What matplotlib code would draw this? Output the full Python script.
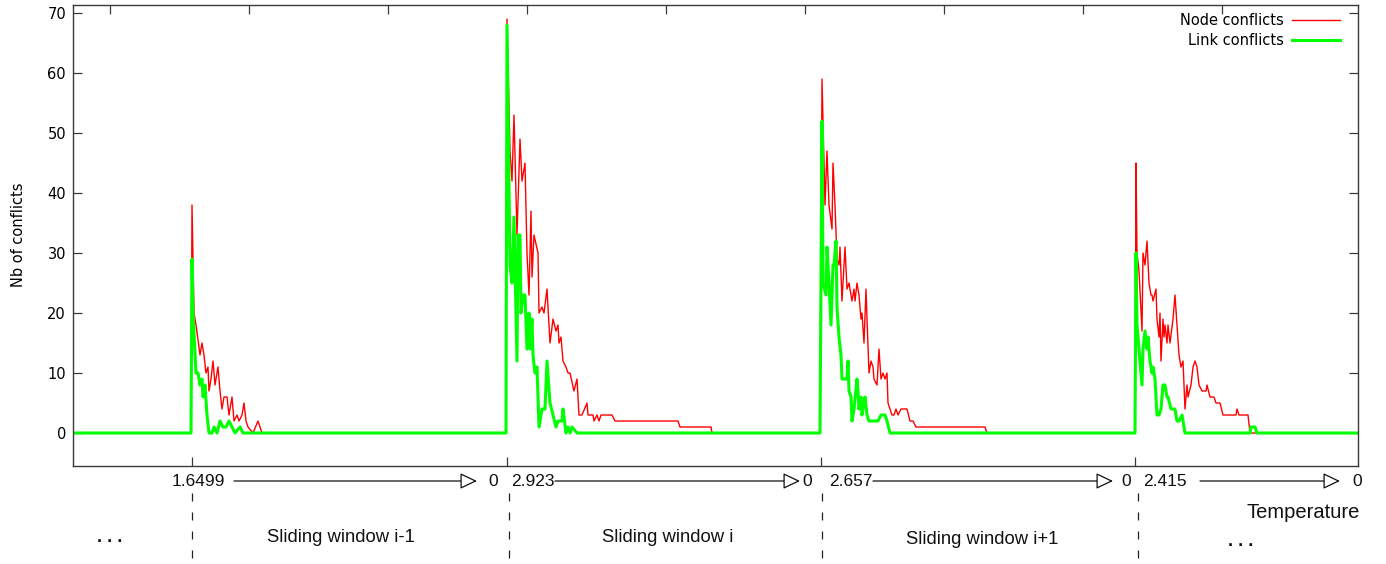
import matplotlib
matplotlib.use("Agg")
import matplotlib.pyplot as plt
import matplotlib.transforms as mtransforms
from matplotlib.lines import Line2D

# ---------------- data ----------------
# x = iteration index, y = number of conflicts
node_x = [0, 118,
          119, 121, 123, 127, 129, 131, 133, 135, 136, 138, 140, 142, 145, 147, 149, 151, 154, 156,
          159, 161, 164, 166, 169, 171, 173, 175, 180, 185, 189,
          433,
          434, 437, 439, 441, 444, 447, 449, 452, 454, 456, 458, 459, 461, 465, 466, 469, 471, 474,
          477, 480, 483, 485, 486, 488, 490, 493, 495, 497, 501, 504, 506, 509, 514, 515, 520, 521,
          524, 526, 528, 539, 542, 605, 607, 638, 639,
          747,
          749, 752, 754, 756, 759, 760, 762, 764, 766, 767, 769, 772, 774, 776, 779, 781, 782, 784,
          786, 788, 789, 791, 793, 794, 796, 798, 800, 801, 804, 806, 808, 810, 812, 814, 815, 819,
          821, 823, 825, 828, 834, 837, 840, 843, 912, 914,
          1062,
          1063, 1064, 1066, 1069, 1070, 1072, 1074, 1076, 1078, 1079, 1080, 1083, 1084, 1086, 1087,
          1088, 1090, 1091, 1092, 1094, 1095, 1097, 1100, 1102, 1104, 1106, 1108, 1110, 1112, 1114,
          1115, 1118, 1120, 1122, 1124, 1126, 1129, 1133, 1134, 1137, 1141, 1143, 1147, 1150, 1163,
          1164, 1166, 1175, 1177,
          1285]
node_y = [0, 0,
          38, 20, 18, 13, 15, 13, 10, 11, 7, 9, 12, 8, 11, 7, 4, 6, 6, 3,
          6, 2, 3, 2, 3, 5, 2, 1, 0, 2, 0,
          0,
          69, 47, 42, 53, 33, 49, 42, 45, 30, 23, 37, 26, 33, 30, 20, 21, 20, 24,
          15, 19, 17, 18, 15, 16, 12, 11, 10, 10, 7, 9, 3, 3, 5, 3, 3, 2,
          3, 2, 3, 3, 2, 2, 1, 1, 0,
          0,
          59, 38, 47, 38, 34, 45, 38, 29, 28, 31, 22, 31, 24, 25, 22, 24, 22, 25,
          23, 19, 20, 15, 24, 19, 10, 12, 11, 9, 8, 14, 9, 10, 9, 10, 5, 3,
          3, 4, 3, 4, 4, 2, 2, 1, 1, 0,
          0,
          45, 30, 27, 17, 30, 28, 32, 25, 23, 23, 22, 24, 19, 16, 20,
          12, 19, 16, 18, 15, 18, 15, 19, 23, 18, 13, 11, 12, 4, 8,
          6, 8, 11, 12, 11, 8, 7, 7, 8, 6, 6, 5, 5, 3, 3,
          4, 3, 3, 0,
          0]

link_x = [0, 118,
          119, 120, 123, 125, 127, 129, 130, 132, 134, 136, 139, 141, 144, 147, 150, 153, 156, 159,
          162, 167, 170,
          433,
          434, 437, 439, 441, 444, 445, 447, 448, 450, 452, 454, 456, 457, 459, 460, 462, 464, 466,
          469, 472, 474, 477, 480, 483, 485, 489, 490, 493, 495, 497, 499, 504,
          747,
          749, 750, 753, 754, 756, 758, 760, 761, 763, 764, 766, 768, 769, 772, 774, 775, 776, 778,
          779, 781, 784, 785, 786, 788, 789, 791, 792, 794, 796, 805, 808, 812, 814, 817,
          1062,
          1063, 1064, 1066, 1069, 1070, 1072, 1074, 1075, 1077, 1079, 1080, 1082, 1084, 1086, 1088,
          1090, 1092, 1094, 1095, 1098, 1100, 1102, 1104, 1106, 1109, 1110, 1112, 1177, 1178, 1182,
          1184,
          1285]
link_y = [0, 0,
          29, 20, 10, 10, 8, 9, 6, 8, 3, 0, 0, 1, 0, 2, 1, 1, 2, 1,
          0, 1, 0,
          0,
          68, 28, 25, 36, 12, 33, 33, 20, 23, 23, 14, 20, 14, 19, 13, 10, 11, 1,
          4, 4, 12, 5, 3, 1, 2, 2, 4, 0, 1, 0, 1, 0,
          0,
          52, 25, 23, 31, 25, 18, 28, 28, 32, 21, 16, 13, 9, 9, 9, 12, 7, 6,
          2, 4, 9, 7, 4, 6, 3, 5, 6, 3, 2, 2, 3, 3, 2, 0,
          0,
          30, 18, 14, 8, 14, 17, 14, 16, 12, 10, 11, 9, 3, 3, 4,
          8, 8, 6, 6, 4, 4, 4, 2, 2, 3, 2, 0, 0, 1, 1,
          0,
          0]

series_labels = ["Node conflicts", "Link conflicts"]
window_starts = [119, 434, 748, 1062]          # iteration where each window starts
top_ticks = [37, 176, 315, 454, 593, 732, 871, 1010, 1149]
y_ticks = [0, 10, 20, 30, 40, 50, 60, 70]
temp_start = ["1.6499", "2.923", "2.657", "2.415"]
temp_end = ["0", "0", "0", "0"]
window_labels = ["Sliding window i-1", "Sliding window i", "Sliding window i+1"]

# ---------------- figure ----------------
W, H = 1386, 564
fig = plt.figure(figsize=(W / 100, H / 100), dpi=100)
ax = fig.add_axes([73 / W, 1 - 465.7 / H, (1358 - 73) / W, (465.7 - 4.7) / H])

RED = "#ff0000"
GREEN = "#00ff00"
ax.plot(node_x, node_y, color=RED, lw=1.0)
ax.plot(link_x, link_y, color=GREEN, lw=2.2)

ax.set_xlim(0, 1285)
ax.set_ylim(-5.45, 71.4)

for s in ax.spines.values():
    s.set_color("#3a3a3a")
    s.set_linewidth(1.0)

ax.set_yticks(y_ticks)
ax.set_xticks(window_starts)
ax.set_xticklabels([])
ax.tick_params(axis="y", direction="in", length=6.5, width=0.9, color="#3a3a3a",
               right=True, labelsize=10.5, pad=5)
ax.tick_params(axis="x", direction="in", length=6.5, width=0.9, color="#3a3a3a")
sec = ax.secondary_xaxis("top")
sec.set_xticks(top_ticks)
sec.set_xticklabels([])
sec.tick_params(direction="in", length=6.5, width=0.9, color="#3a3a3a")
sec.spines["top"].set_visible(False)

ax.set_ylabel("Nb of conflicts", fontsize=10.5)
ax.yaxis.set_label_coords((26 - 73) / 1285, (465.7 - 235) / 461)

handles = [Line2D([], [], color=RED, lw=1.0), Line2D([], [], color=GREEN, lw=2.2)]
ax.legend(handles, series_labels, loc="upper right",
          bbox_to_anchor=((1340 - 73) / 1285, (465.7 - 13) / 461),
          frameon=False, markerfirst=False, fontsize=10.5, handlelength=3.3,
          handletextpad=0.55, labelspacing=0.35, borderaxespad=0, borderpad=0)

# ---------------- annotations below the axes ----------------
ann_fam = ["Liberation Sans", "DejaVu Sans"]
tr = mtransforms.blended_transform_factory(ax.transData, fig.transFigure)


def px2x(px):
    return px - 73


def py2f(py):
    return 1 - py / H


row_y = py2f(481)
start_px = [225, 555, 873, 1187]      # right edge of start temperature
arrow_from = [234, 555, 873, 1200]
arrow_to = [477, 800, 1113, 1340]
end_px = [493, 807, 1126, 1357]
for i in range(4):
    fig.text(px2x(start_px[i]), row_y, temp_start[i], transform=tr, ha="right", va="center",
             fontsize=12.5, family=ann_fam, color="#111111")
    ax.annotate("", xy=(px2x(arrow_to[i]), row_y), xytext=(px2x(arrow_from[i]), row_y),
                xycoords=tr, textcoords=tr, annotation_clip=False,
                arrowprops=dict(arrowstyle="-|>,head_length=0.8,head_width=0.38", fc="white",
                                ec="#111111", lw=0.9, mutation_scale=13, shrinkA=0, shrinkB=0))
    fig.text(px2x(end_px[i]), row_y, temp_end[i], transform=tr, ha="center", va="center",
             fontsize=12.5, family=ann_fam, color="#111111")

dash_px = [192, 509, 822, 1138]
for dp in dash_px:
    ax.add_line(Line2D([px2x(dp), px2x(dp)], [py2f(493), py2f(566)], transform=tr,
                       color="#222222", lw=0.9, dashes=(6.4, 8.8), clip_on=False))

label_px = [341, 668, 982]
label_py = [537, 537, 540]
for lab, lx, ly in zip(window_labels, label_px, label_py):
    fig.text(px2x(lx), py2f(ly), lab, transform=tr, ha="center", va="center",
             fontsize=13.3, family=ann_fam, color="#111111")

fig.text(px2x(110), py2f(537), ". . .", transform=tr, ha="center", va="center",
         fontsize=13, family=ann_fam, color="#111111", fontweight="bold")
fig.text(px2x(1241), py2f(541), ". . .", transform=tr, ha="center", va="center",
         fontsize=13, family=ann_fam, color="#111111", fontweight="bold")
fig.text(px2x(1303), py2f(512), "Temperature", transform=tr, ha="center", va="center",
         fontsize=14.5, family=ann_fam, color="#111111")

fig.savefig("out.png", dpi=100)
